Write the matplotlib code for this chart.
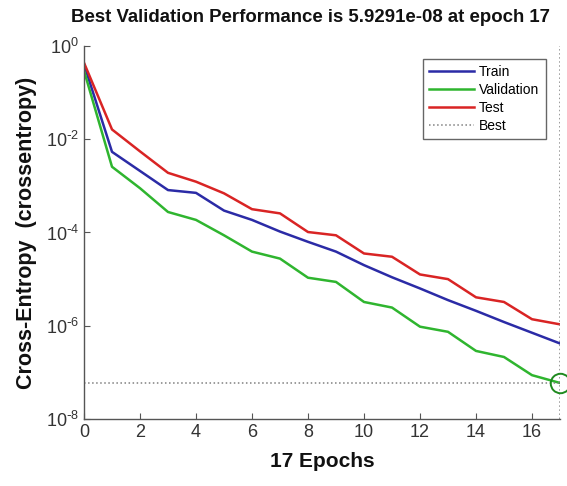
import numpy as np
import matplotlib
matplotlib.use("Agg")
import matplotlib.pyplot as plt
from matplotlib.ticker import NullLocator, FuncFormatter

plt.rcParams['font.family'] = ['Liberation Sans', 'DejaVu Sans']
plt.rcParams['mathtext.default'] = 'regular'
plt.rcParams['axes.unicode_minus'] = False

epochs = list(range(18))
train_log = [-0.39, -2.27, -2.68, -3.09, -3.15, -3.53, -3.73, -3.98, -4.20,
             -4.41, -4.70, -4.96, -5.20, -5.45, -5.68, -5.92, -6.15, -6.38]
val_log = [-0.53, -2.59, -3.05, -3.56, -3.73, -4.06, -4.41, -4.56, -4.97,
           -5.06, -5.49, -5.61, -6.02, -6.13, -6.54, -6.67, -7.06, -7.227]
test_log = [-0.36, -1.79, -2.26, -2.72, -2.91, -3.16, -3.50, -3.59, -3.99,
            -4.06, -4.45, -4.52, -4.90, -5.00, -5.39, -5.49, -5.86, -5.97]
train = [10 ** v for v in train_log]
val = [10 ** v for v in val_log]
test = [10 ** v for v in test_log]
best_epoch = 17
best_val = 5.9291e-08


def log_fmt(v, pos):
    n = int(round(np.log10(v)))
    if n < 0:
        return r'$10^{\text{-}%d}$' % (-n)
    return r'$10^{%d}$' % n


fig = plt.figure(figsize=(5.67, 4.86), dpi=100)
ax = fig.add_axes([84/567, 1-419/486, (560-84)/567, (419-46)/486])

ax.semilogy(epochs, train, color='#2b2ba6', lw=1.8, label='Train')
ax.semilogy(epochs, val, color='#2fb52f', lw=1.8, label='Validation')
ax.semilogy(epochs, test, color='#d92424', lw=1.8, label='Test')
ax.axhline(best_val, color='#808080', lw=1.1, ls=':', label='Best')
ax.axvline(best_epoch, color='#808080', lw=1.1, ls=':')
ax.plot([best_epoch], [best_val], 'o', mfc='none', mec='#1f8a1f', ms=14, mew=1.4,
        clip_on=False)

ax.set_xlim(0, 17)
ax.set_ylim(1e-8, 1e0)
ax.set_xticks([0, 2, 4, 6, 8, 10, 12, 14, 16])
ax.set_yticks([1e0, 1e-2, 1e-4, 1e-6, 1e-8])
ax.yaxis.set_major_formatter(FuncFormatter(log_fmt))
ax.yaxis.set_minor_locator(NullLocator())

for s in ['top', 'right']:
    ax.spines[s].set_visible(False)
for s in ['left', 'bottom']:
    ax.spines[s].set_color('#555555')
    ax.spines[s].set_linewidth(1.0)
ax.tick_params(axis='both', direction='in', length=4, width=0.8, colors='#555555',
               labelcolor='#333333', labelsize=13)

ax.set_title('Best Validation Performance is 5.9291e-08 at epoch 17',
             fontsize=13.4, fontweight='bold', pad=17, color='#111111', x=0.475)
ax.set_xlabel('17 Epochs', fontsize=15, fontweight='bold', color='#111111', labelpad=8)
ax.set_ylabel('Cross-Entropy  (crossentropy)', fontsize=15.5, fontweight='bold',
              color='#111111', labelpad=6)

leg = ax.legend(loc='upper right', bbox_to_anchor=(0.97, 0.965), borderaxespad=0,
                fontsize=10, frameon=True, fancybox=False, edgecolor='#666666',
                framealpha=1, handlelength=3.2, borderpad=0.45, labelspacing=0.28,
                handletextpad=0.4)
leg.get_frame().set_linewidth(1.0)

fig.savefig('out.png', dpi=100)
